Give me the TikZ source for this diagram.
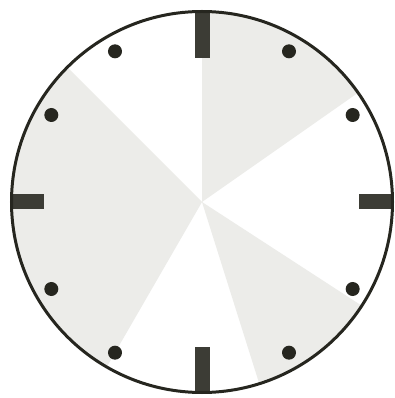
\documentclass[tikz,border=0pt]{standalone}
\begin{document}
\begin{tikzpicture}[x=1pt,y=1pt,
  rim/.style={draw=ink, line width=3pt},
  tickmark/.style={draw=ink!90, line width=15pt},
  hourdot/.style={fill=ink},
  sector/.style={fill=shadecol}]
\definecolor{ink}{HTML}{26261F}
\definecolor{shadecol}{HTML}{ECECE9}
\useasboundingbox (-202,-196) rectangle (192,202);
\fill[white] (-202,-196) rectangle (192,202);
\coordinate (c) at (0,0);
% shaded sectors
\fill[sector] (c) -- (90:190) arc[start angle=90, end angle=35, radius=190] -- cycle;
\fill[sector] (c) -- (-33:190) arc[start angle=-33, end angle=-72.5, radius=190] -- cycle;
\fill[sector] (c) -- (135:190) arc[start angle=135, end angle=240, radius=190] -- cycle;
% hour ticks
\draw[tickmark] (90:144) -- (90:190);
\draw[tickmark] (270:145) -- (270:190);
\draw[tickmark] (0:157) -- (0:190);
\draw[tickmark] (180:158) -- (180:190);
% hour dots
\foreach \a in {30,60,120,150,210,240,300,330}
  \fill[hourdot] (\a:174) circle (7);
% rim
\draw[rim] (c) circle (190.5);
\end{tikzpicture}
\end{document}
